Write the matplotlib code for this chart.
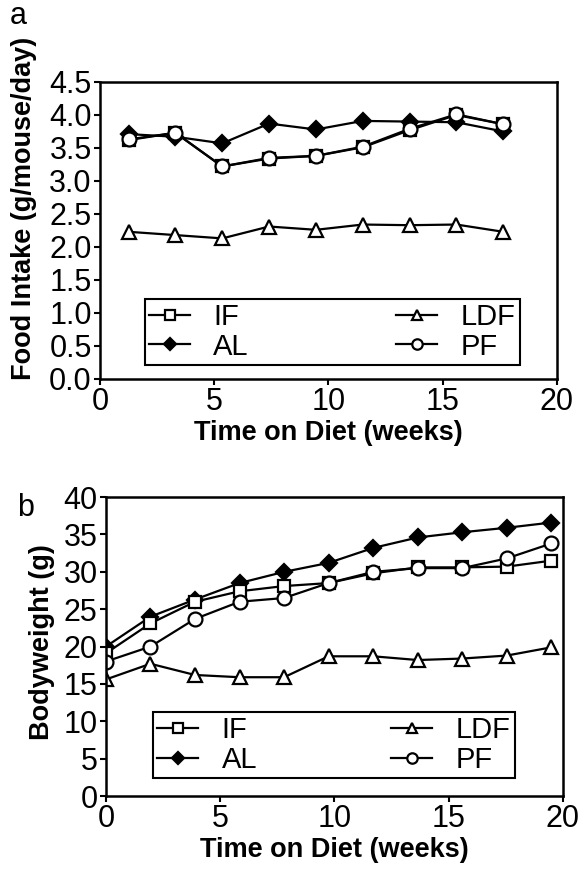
import matplotlib
matplotlib.use("Agg")
import matplotlib.pyplot as plt
from matplotlib.ticker import FormatStrFormatter

plt.rcParams['font.family'] = ['Liberation Sans', 'DejaVu Sans']

# panel a: food intake
weeks_a = [1.25, 3.3, 5.35, 7.4, 9.45, 11.5, 13.55, 15.6, 17.65]
intake_if = [3.62, 3.73, 3.22, 3.34, 3.38, 3.51, 3.77, 4.00, 3.86]
intake_al = [3.71, 3.67, 3.57, 3.87, 3.78, 3.91, 3.90, 3.89, 3.75]
intake_ldf = [2.23, 2.18, 2.13, 2.31, 2.26, 2.34, 2.33, 2.34, 2.23]
intake_pf = [3.63, 3.73, 3.22, 3.35, 3.38, 3.52, 3.79, 4.01, 3.86]

# panel b: bodyweight
weeks_b = [0, 1.95, 3.9, 5.85, 7.8, 9.75, 11.7, 13.65, 15.6, 17.55, 19.5]
bw_if = [19.1, 23.1, 26.0, 27.4, 28.1, 28.5, 29.8, 30.6, 30.6, 30.7, 31.5]
bw_al = [20.0, 24.0, 26.3, 28.5, 30.0, 31.2, 33.2, 34.6, 35.3, 35.9, 36.6]
bw_ldf = [15.6, 17.7, 16.2, 15.9, 15.9, 18.7, 18.7, 18.2, 18.4, 18.8, 19.9]
bw_pf = [18.0, 20.0, 23.7, 26.0, 26.5, 28.5, 30.0, 30.5, 30.5, 31.8, 33.8]

TICK_FS = 22
LABEL_FS = 19.5
LEG_FS = 21


def draw_panel(ax, x, y_if, y_al, y_ldf, y_pf):
    kw = dict(color='black', lw=1.6, markersize=9, markeredgewidth=1.6,
              markeredgecolor='black')
    h_al, = ax.plot(x, y_al, marker='D', markerfacecolor='black', label='AL',
                    **{**kw, 'markersize': 8})
    h_if, = ax.plot(x, y_if, marker='s', markerfacecolor='white', label='IF', **kw)
    h_pf, = ax.plot(x, y_pf, marker='o', markerfacecolor='white', label='PF',
                    **{**kw, 'markersize': 10})
    h_ldf, = ax.plot(x, y_ldf, marker='^', markerfacecolor='white', label='LDF',
                     **{**kw, 'markersize': 10})
    for s in ax.spines.values():
        s.set_linewidth(1.8)
    ax.tick_params(direction='out', length=4, width=1.5, labelsize=TICK_FS, pad=2)
    ax.set_xlim(0, 20)
    ax.set_xticks([0, 5, 10, 15, 20])
    ax.set_xlabel('Time on Diet (weeks)', fontsize=LABEL_FS, fontweight='bold',
                  labelpad=2)
    return [h_if, h_al, h_ldf, h_pf]


def add_legend(ax, handles, box):
    leg = ax.legend(handles=handles, ncol=2, mode='expand', bbox_to_anchor=box,
                    loc='lower left', fontsize=LEG_FS, frameon=True,
                    fancybox=False, edgecolor='black', framealpha=1,
                    handlelength=1.4, markerscale=0.75, borderaxespad=0,
                    labelspacing=0.05, handletextpad=0.8, borderpad=0.15)
    leg.get_frame().set_linewidth(1.5)
    return leg


fig = plt.figure(figsize=(5.85, 8.74), dpi=100)
ax1 = fig.add_axes([0.171, 0.5664, 0.781, 0.3398])
ax2 = fig.add_axes([0.181, 0.0892, 0.781, 0.342])

handles = draw_panel(ax1, weeks_a, intake_if, intake_al, intake_ldf, intake_pf)
ax1.set_ylim(0, 4.5)
ax1.set_yticks([0.5 * i for i in range(10)])
ax1.yaxis.set_major_formatter(FormatStrFormatter('%.1f'))
ax1.set_ylabel('Food Intake (g/mouse/day)', fontsize=LABEL_FS,
               fontweight='bold')
ax1.yaxis.set_label_coords(-0.138, 0.575)
add_legend(ax1, handles, (0.098, 0.047, 0.821, 0.243))

handles = draw_panel(ax2, weeks_b, bw_if, bw_al, bw_ldf, bw_pf)
ax2.set_ylim(0, 40)
ax2.set_yticks(range(0, 41, 5))
ax2.set_ylabel('Bodyweight (g)', fontsize=LABEL_FS, fontweight='bold')
ax2.yaxis.set_label_coords(-0.112, 0.515)
add_legend(ax2, handles, (0.103, 0.06, 0.792, 0.237))

fig.text(10 / 585, 1 - 24 / 874, 'a', fontsize=TICK_FS)
fig.text(17 / 585, 1 - 516 / 874, 'b', fontsize=TICK_FS)

fig.savefig('out.png', dpi=100)
